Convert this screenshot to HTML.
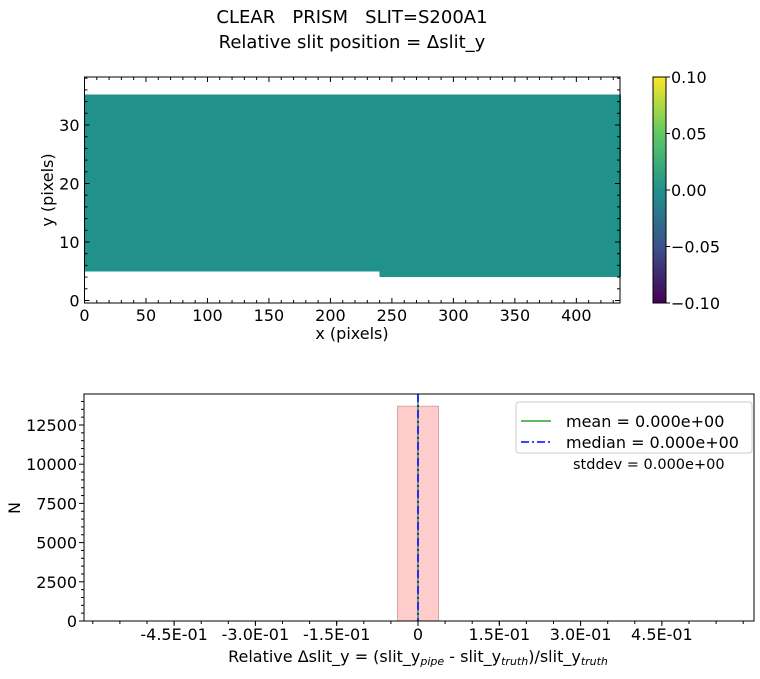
<!DOCTYPE html>
<html><head><meta charset="utf-8"><style>
body{margin:0;background:#fff;font-family:"Liberation Sans","DejaVu Sans",sans-serif}
svg text{font-family:"DejaVu Sans","Liberation Sans",sans-serif;fill:#000;white-space:pre}
</style></head><body>
<svg id="c" width="760" height="674" viewBox="0 0 760 674" xmlns="http://www.w3.org/2000/svg">
<defs><linearGradient id="vir" x1="0" y1="1" x2="0" y2="0">
<stop offset="0" stop-color="#440154"/><stop offset="0.25" stop-color="#3b528b"/><stop offset="0.5" stop-color="#21918c"/><stop offset="0.75" stop-color="#5ec962"/><stop offset="1" stop-color="#fde725"/></linearGradient></defs>
<text x="352" y="23" font-size="18" text-anchor="middle" xml:space="preserve">CLEAR   PRISM   SLIT=S200A1</text>
<text x="352" y="48" font-size="18" text-anchor="middle">Relative slit position = Δslit_y</text>
<g id="top"></g><g id="bot"></g>
</svg>
<script>
const topXTicks=[0,50,100,150,200,250,300,350,400];
const topYTicks=[0,10,20,30];
const regionsX0=[0,240];const regionsX1=[240,435.5];
const regionsY0=[5,4];const regionsY1=[35.2,35.2];
const cbTicks=[-0.1,-0.05,0,0.05,0.1];
const cbLabels=["−0.10","−0.05","0.00","0.05","0.10"];
const histEdges=[-0.038,0.038];const histCounts=[13700];
const botXTicks=[-0.45,-0.3,-0.15,0,0.15,0.3,0.45];
const botXLabels=["-4.5E-01","-3.0E-01","-1.5E-01","0","1.5E-01","3.0E-01","4.5E-01"];
const botYTicks=[0,2500,5000,7500,10000,12500];
const meanVal=[0];const medianVal=[0];
const NS="http://www.w3.org/2000/svg";
function mk(p,t,a){const e=document.createElementNS(NS,t);for(const k in a)e.setAttribute(k,a[k]);p.appendChild(e);return e;}
const T=document.getElementById('top'),B=document.getElementById('bot');
const L=84.5,R=620,Tp=77,Bt=303;
const sx=v=>L+(v-0)/(435.5)*(R-L);
const sy=v=>300.5-v*5.85;
for(let i=0;i<regionsX0.length;i++){
 const r=mk(T,'rect',{x:sx(regionsX0[i]),y:sy(regionsY1[i]),width:sx(regionsX1[i])-sx(regionsX0[i])+0.8,height:sy(regionsY0[i])-sy(regionsY1[i]),fill:'#21918c','shape-rendering':'crispEdges'});
 
 
}
let f=mk(T,'rect',{x:L,y:Tp,width:R-L,height:Bt-Tp,fill:'none',stroke:'#000','stroke-width':1});

for(let v=0;v<=435;v+=10){const x=sx(v),m=v%50==0?5:3;mk(T,'line',{x1:x,x2:x,y1:Bt,y2:Bt-m,stroke:'#000'});mk(T,'line',{x1:x,x2:x,y1:Tp,y2:Tp+m,stroke:'#000'});}
for(let v=0;v<=38;v+=2){const y=sy(v),m=v%10==0?5:3;mk(T,'line',{x1:L,x2:L+m,y1:y,y2:y,stroke:'#000'});mk(T,'line',{x1:R,x2:R-m,y1:y,y2:y,stroke:'#000'});}
topXTicks.forEach(v=>{const t=mk(T,'text',{x:sx(v),y:321,'font-size':16,'text-anchor':'middle'});t.textContent=v;});
topYTicks.forEach(v=>{const t=mk(T,'text',{x:L-5,y:sy(v)+6,'font-size':16,'text-anchor':'end'});t.textContent=v;});
let xl=mk(T,'text',{x:352,y:339,'font-size':16,'text-anchor':'middle'});xl.textContent='x (pixels)';
let yl=mk(T,'text',{x:53,y:190,'font-size':16,'text-anchor':'middle',transform:'rotate(-90 53 190)'});yl.textContent='y (pixels)';
const cy=v=>303-(v+0.1)/0.2*226;
let cb=mk(T,'rect',{x:653,y:77,width:13,height:226,fill:'url(#vir)',stroke:'#000','stroke-width':1});

cbTicks.forEach((v,i)=>{mk(T,'line',{x1:666,x2:670,y1:cy(v),y2:cy(v),stroke:'#000'});const t=mk(T,'text',{x:671,y:cy(v)+6,'font-size':16});t.textContent=cbLabels[i];});
const bL=84,bR=754,bT=394,bB=621;
const bx=v=>418+v*542;
const by=v=>bB-v*0.01568;
histCounts.forEach((c,i)=>{const r=mk(B,'rect',{x:bx(histEdges[i]),y:by(c),width:bx(histEdges[i+1])-bx(histEdges[i]),height:bB-by(c),fill:'#ffcccc',stroke:'#c8a0a0','stroke-width':0.8});});
let ml=mk(B,'line',{x1:bx(meanVal[0]),x2:bx(meanVal[0]),y1:bT,y2:bB,stroke:'#2ca02c','stroke-width':1.5});
let md=mk(B,'line',{x1:bx(medianVal[0]),x2:bx(medianVal[0]),y1:bT,y2:bB,stroke:'#0000ff','stroke-width':1.5,'stroke-dasharray':'8 3 2 3'});
let bf=mk(B,'rect',{x:bL,y:bT,width:bR-bL,height:bB-bT,fill:'none',stroke:'#000'});
for(let k=-12;k<=12;k++){const v=k*0.05;const x=bx(v);if(x<bL||x>bR)continue;mk(B,'line',{x1:x,x2:x,y1:bB,y2:bB+3,stroke:'#000'});}
botXTicks.forEach((v,i)=>{mk(B,'line',{x1:bx(v),x2:bx(v),y1:bB,y2:bB+5,stroke:'#000'});const t=mk(B,'text',{x:bx(v),y:640,'font-size':16,'text-anchor':'middle'});t.textContent=botXLabels[i];});
for(let v=0;v<=14000;v+=500){mk(B,'line',{x1:bL-(v%2500==0?5:3),x2:bL,y1:by(v),y2:by(v),stroke:'#000'});}
botYTicks.forEach(v=>{const t=mk(B,'text',{x:bL-7,y:by(v)+6,'font-size':16,'text-anchor':'end'});t.textContent=v;});
let nl=mk(B,'text',{x:20,y:508,'font-size':16,'text-anchor':'middle',transform:'rotate(-90 20 508)'});nl.textContent='N';
let bxl=mk(B,'text',{x:418,y:662,'font-size':16,'text-anchor':'middle'});
bxl.innerHTML='Relative Δslit_y = (slit_y<tspan font-size="11" font-style="italic" dy="3">pipe</tspan><tspan dy="-3"> - slit_y</tspan><tspan font-size="11" font-style="italic" dy="3">truth</tspan><tspan dy="-3">)/slit_y</tspan><tspan font-size="11" font-style="italic" dy="3">truth</tspan>';

let lg=mk(B,'rect',{x:516,y:402,width:236,height:51,rx:3,fill:'#fff',stroke:'#ccc'});
mk(B,'line',{x1:521,x2:551,y1:421,y2:421,stroke:'#2ca02c','stroke-width':1.5});
mk(B,'line',{x1:521,x2:551,y1:442,y2:442,stroke:'#0000ff','stroke-width':1.5,'stroke-dasharray':'8 3 2 3'});
let t1=mk(B,'text',{x:566,y:427,'font-size':16});t1.textContent='mean = 0.000e+00';
let t2=mk(B,'text',{x:566,y:448,'font-size':16});t2.textContent='median = 0.000e+00';
let t3=mk(B,'text',{x:573,y:469,'font-size':14.5});t3.textContent='stddev = 0.000e+00';
</script>
</body></html>
